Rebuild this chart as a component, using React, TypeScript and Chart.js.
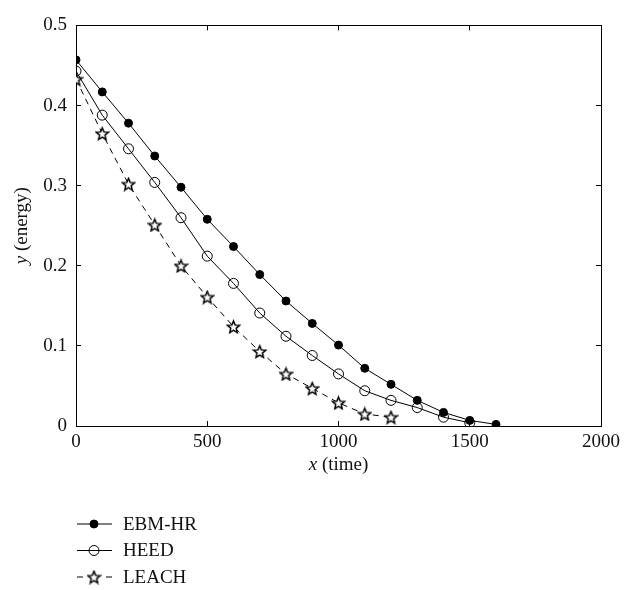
import React, { useEffect, useRef } from 'react';
import { Chart, registerables } from 'chart.js';

Chart.register(...registerables);

// ---- Data ----
const timeSteps = [0, 100, 200, 300, 400, 500, 600, 700, 800, 900, 1000, 1100, 1200, 1300, 1400, 1500, 1600];
const ebmHr = [0.457, 0.417, 0.378, 0.337, 0.298, 0.258, 0.224, 0.189, 0.156, 0.128, 0.101, 0.072, 0.052, 0.032, 0.017, 0.007, 0.002];
const heed = [0.443, 0.388, 0.346, 0.304, 0.26, 0.212, 0.178, 0.141, 0.112, 0.088, 0.065, 0.044, 0.032, 0.023, 0.011, 0.004];
const leach = [0.433, 0.365, 0.302, 0.251, 0.2, 0.161, 0.124, 0.093, 0.065, 0.047, 0.029, 0.015, 0.011];
const seriesNames = ['EBM-HR', 'HEED', 'LEACH'];
const xTickValues = [0, 500, 1000, 1500, 2000];
const yTickValues = [0, 0.1, 0.2, 0.3, 0.4, 0.5];
const xTitleVar = 'x';
const xTitleRest = ' (time)';
const yTitleVar = 'y';
const yTitleRest = ' (energy)';

const FONT = '"Liberation Serif", "Times New Roman", serif';
const FS = 19;

function makeStar(size: number): HTMLCanvasElement {
  const c = document.createElement('canvas');
  c.width = size;
  c.height = size;
  const ctx = c.getContext('2d')!;
  const cx = size / 2;
  const cy = size / 2 + 0.7;
  const R = size / 2 - 1.2;
  const r = R * 0.45;
  ctx.beginPath();
  for (let i = 0; i < 10; i++) {
    const a = -Math.PI / 2 + (i * Math.PI) / 5;
    const rad = i % 2 === 0 ? R : r;
    ctx.lineTo(cx + rad * Math.cos(a), cy + rad * Math.sin(a));
  }
  ctx.closePath();
  ctx.fillStyle = '#fff';
  ctx.fill();
  ctx.strokeStyle = '#000';
  ctx.lineWidth = 1.5;
  ctx.lineJoin = 'miter';
  ctx.stroke();
  return c;
}

const toPoints = (ys: number[]) => ys.map((y, i) => ({ x: timeSteps[i], y }));

const legendPlugin = {
  id: 'customLegend',
  afterDraw(chart: any) {
    const ctx: CanvasRenderingContext2D = chart.ctx;
    const x0 = 77, x1 = 112, mx = 94, tx = 123, y0 = 524, gap = 26.5;
    chart.data.datasets.forEach((ds: any, i: number) => {
      const y = y0 + i * gap;
      ctx.save();
      ctx.strokeStyle = '#000';
      ctx.lineWidth = 1;
      if (ds.borderDash && ds.borderDash.length) {
        ctx.beginPath();
        ctx.moveTo(x0, y); ctx.lineTo(x0 + 6, y);
        ctx.moveTo(x1 - 6, y); ctx.lineTo(x1, y);
        ctx.stroke();
      } else {
        ctx.beginPath();
        ctx.moveTo(x0, y); ctx.lineTo(x1, y);
        ctx.stroke();
      }
      const ps = ds.pointStyle;
      if (ps && typeof ps !== 'string') {
        ctx.drawImage(ps, mx - ps.width / 2, y - ps.height / 2);
      } else {
        ctx.beginPath();
        ctx.arc(mx, y, ds.pointRadius, 0, Math.PI * 2);
        if (ds.pointBackgroundColor && ds.pointBackgroundColor !== 'rgba(0,0,0,0)') {
          ctx.fillStyle = ds.pointBackgroundColor;
          ctx.fill();
        }
        ctx.lineWidth = ds.pointBorderWidth || 1;
        ctx.stroke();
      }
      ctx.fillStyle = '#111';
      ctx.font = `${FS}px ${FONT}`;
      ctx.textBaseline = 'middle';
      ctx.textAlign = 'left';
      ctx.fillText(ds.label, tx, y + 1);
      ctx.restore();
    });
  },
};

const titlePlugin = {
  id: 'axisTitles',
  afterDraw(chart: any) {
    const ctx: CanvasRenderingContext2D = chart.ctx;
    const area = chart.chartArea;
    const drawMixed = (v: string, rest: string, cx: number, cy: number, rot: number) => {
      ctx.save();
      ctx.translate(cx, cy);
      ctx.rotate(rot);
      ctx.fillStyle = '#111';
      ctx.textBaseline = 'middle';
      ctx.textAlign = 'left';
      ctx.font = `italic ${FS}px ${FONT}`;
      const w1 = ctx.measureText(v).width;
      ctx.font = `${FS}px ${FONT}`;
      const w2 = ctx.measureText(rest).width;
      const start = -(w1 + w2) / 2;
      ctx.font = `italic ${FS}px ${FONT}`;
      ctx.fillText(v, start, 0);
      ctx.font = `${FS}px ${FONT}`;
      ctx.fillText(rest, start + w1, 0);
      ctx.restore();
    };
    drawMixed(xTitleVar, xTitleRest, (area.left + area.right) / 2, 465, 0);
    drawMixed(yTitleVar, yTitleRest, 22, (area.top + area.bottom) / 2, -Math.PI / 2);
  },
};

export default function App() {
  const ref = useRef<HTMLCanvasElement | null>(null);

  useEffect(() => {
    if (!ref.current) return;
    const star = makeStar(15);
    const tickFont = { family: FONT, size: FS };
    const gridOpts = {
      display: true,
      drawOnChartArea: false,
      drawTicks: true,
      tickLength: -5,
      color: '#000',
      lineWidth: 1,
    };
    const borderOpts = { display: true, color: '#000', width: 1 };
    const chart = new Chart(ref.current, {
      type: 'line',
      data: {
        datasets: [
          {
            label: seriesNames[0],
            data: toPoints(ebmHr),
            borderColor: '#000',
            borderWidth: 1,
            pointStyle: 'circle',
            pointRadius: 4,
            pointBackgroundColor: '#000',
            pointBorderColor: '#000',
            pointBorderWidth: 1,
            tension: 0,
          },
          {
            label: seriesNames[1],
            data: toPoints(heed),
            borderColor: '#000',
            borderWidth: 1,
            pointStyle: 'circle',
            pointRadius: 5,
            pointBackgroundColor: 'rgba(0,0,0,0)',
            pointBorderColor: '#000',
            pointBorderWidth: 1,
            tension: 0,
          },
          {
            label: seriesNames[2],
            data: toPoints(leach),
            borderColor: '#000',
            borderWidth: 1,
            borderDash: [6, 5],
            pointStyle: star as any,
            pointRadius: 7,
            pointBackgroundColor: '#fff',
            pointBorderColor: '#000',
            tension: 0,
          },
        ],
      },
      options: {
        animation: false,
        responsive: false,
        layout: { padding: 0 },
        plugins: {
          legend: { display: false },
          tooltip: { enabled: false },
        },
        scales: {
          x: {
            type: 'linear',
            position: 'bottom',
            min: 0,
            max: 2000,
            afterBuildTicks: (s: any) => { s.ticks = xTickValues.map((v) => ({ value: v })); },
            afterFit: (s: any) => { s.height = 164; },
            ticks: {
              font: tickFont,
              color: '#111',
              padding: 10,
              maxRotation: 0,
              callback: (v: any) => String(v),
            },
            grid: gridOpts,
            border: borderOpts,
          },
          x2: {
            type: 'linear',
            position: 'top',
            min: 0,
            max: 2000,
            afterBuildTicks: (s: any) => { s.ticks = xTickValues.map((v) => ({ value: v })); },
            afterFit: (s: any) => { s.height = 15; },
            ticks: { display: false },
            grid: gridOpts,
            border: borderOpts,
          },
          y: {
            type: 'linear',
            position: 'left',
            min: 0,
            max: 0.5,
            afterBuildTicks: (s: any) => { s.ticks = yTickValues.map((v) => ({ value: v })); },
            afterFit: (s: any) => { s.width = 76; },
            ticks: {
              font: tickFont,
              color: '#111',
              padding: 14,
              callback: (v: any) => String(v),
            },
            grid: gridOpts,
            border: borderOpts,
          },
          y2: {
            type: 'linear',
            position: 'right',
            min: 0,
            max: 0.5,
            afterBuildTicks: (s: any) => { s.ticks = yTickValues.map((v) => ({ value: v })); },
            afterFit: (s: any) => { s.width = 33; },
            ticks: { display: false },
            grid: gridOpts,
            border: borderOpts,
          },
        },
      } as any,
      plugins: [legendPlugin, titlePlugin],
    });
    return () => chart.destroy();
  }, []);

  return (
    <div style={{ position: 'fixed', left: 0, top: 0, width: 634, height: 590, background: '#fff' }}>
      <canvas ref={ref} width={634} height={590} />
    </div>
  );
}
